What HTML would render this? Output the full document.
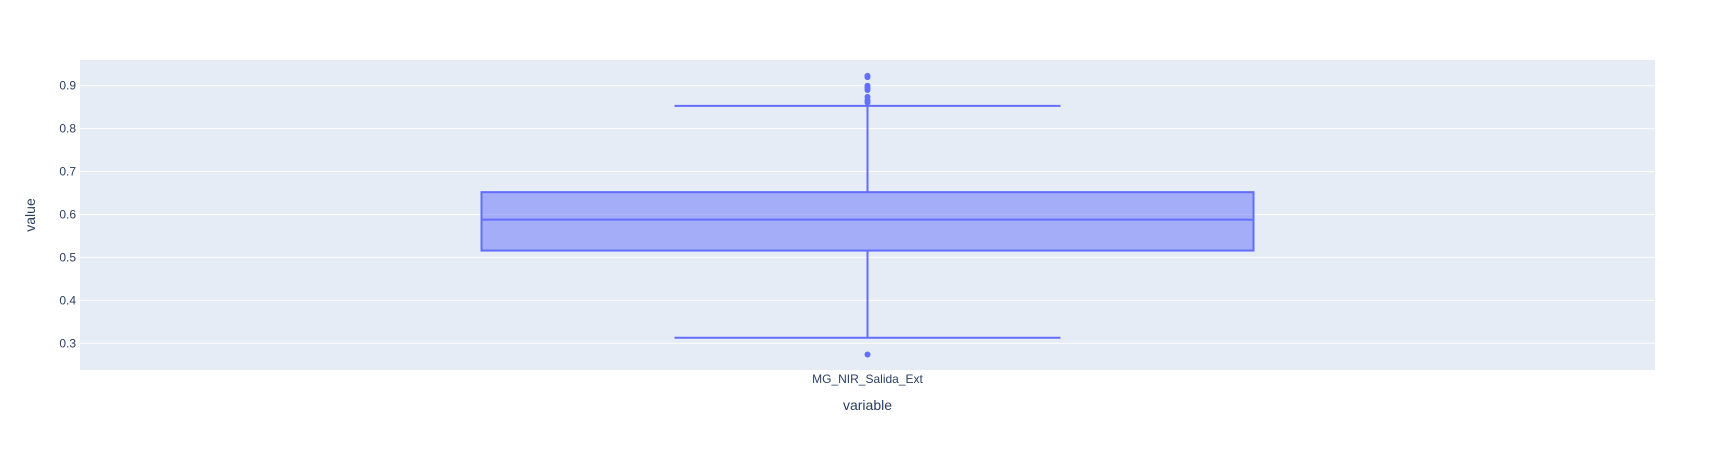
<!DOCTYPE html>
<html><head><meta charset="utf-8"><style>
body{margin:0;background:#fff;font-family:"Liberation Sans",sans-serif}
</style></head><body>
<svg id="chart" width="1735" height="450" xmlns="http://www.w3.org/2000/svg">
<rect x="80" y="60" width="1575" height="310" fill="#e5ecf6"/>
<g id="grid"></g><g id="yticks"></g><g id="box"></g>
<text x="867.5" y="383" text-anchor="middle" font-size="12" fill="#2a3f5f">MG_NIR_Salida_Ext</text>
<text x="867.5" y="410" text-anchor="middle" font-size="14" fill="#2a3f5f">variable</text>
<text x="35" y="215" text-anchor="middle" font-size="14" fill="#2a3f5f" transform="rotate(-90 35 215)">value</text>
</svg>
<script>
const yTicks=[0.3,0.4,0.5,0.6,0.7,0.8,0.9];
const yTickLabels=["0.3","0.4","0.5","0.6","0.7","0.8","0.9"];
const category=["MG_NIR_Salida_Ext"];
const lowerFence=[0.313];
const q1=[0.516];
const median=[0.588];
const q3=[0.652];
const upperFence=[0.853];
const outliers=[0.923,0.92,0.9,0.895,0.89,0.874,0.866,0.861,0.274];
const NS="http://www.w3.org/2000/svg";
function y(v){return 85.7+(0.9-v)*429.3;}
const cx=867.5,halfBox=386,halfCap=193;
function mk(tag,attrs,parent){const e=document.createElementNS(NS,tag);for(const k in attrs)e.setAttribute(k,attrs[k]);document.getElementById(parent).appendChild(e);return e;}
yTicks.forEach((t,i)=>{
 const l=mk('line',{x1:80,x2:1655,y1:y(t),y2:y(t),stroke:'#fff','stroke-width':1},'grid');
 
 
 const tx=mk('text',{x:76,y:y(t)+4,'text-anchor':'end','font-size':12,fill:'#2a3f5f'},'yticks');
 tx.textContent=yTickLabels[i];
 
 
});
const c='#636efa';
let e;
e=mk('line',{x1:cx,x2:cx,y1:y(upperFence[0]),y2:y(q3[0]),stroke:c,'stroke-width':2},'box');


e=mk('line',{x1:cx,x2:cx,y1:y(q1[0]),y2:y(lowerFence[0]),stroke:c,'stroke-width':2},'box');


e=mk('line',{x1:cx-halfCap,x2:cx+halfCap,y1:y(upperFence[0]),y2:y(upperFence[0]),stroke:c,'stroke-width':2},'box');


e=mk('line',{x1:cx-halfCap,x2:cx+halfCap,y1:y(lowerFence[0]),y2:y(lowerFence[0]),stroke:c,'stroke-width':2},'box');


e=mk('rect',{x:cx-halfBox,y:y(q3[0]),width:2*halfBox,height:y(q1[0])-y(q3[0]),fill:'rgba(99,110,250,0.5)',stroke:c,'stroke-width':2},'box');


e=mk('line',{x1:cx-halfBox,x2:cx+halfBox,y1:y(median[0]),y2:y(median[0]),stroke:c,'stroke-width':2},'box');


outliers.forEach(v=>{
 const p=mk('circle',{cx:cx,cy:y(v),r:3,fill:c},'box');
 
 
});
</script>
</body></html>
